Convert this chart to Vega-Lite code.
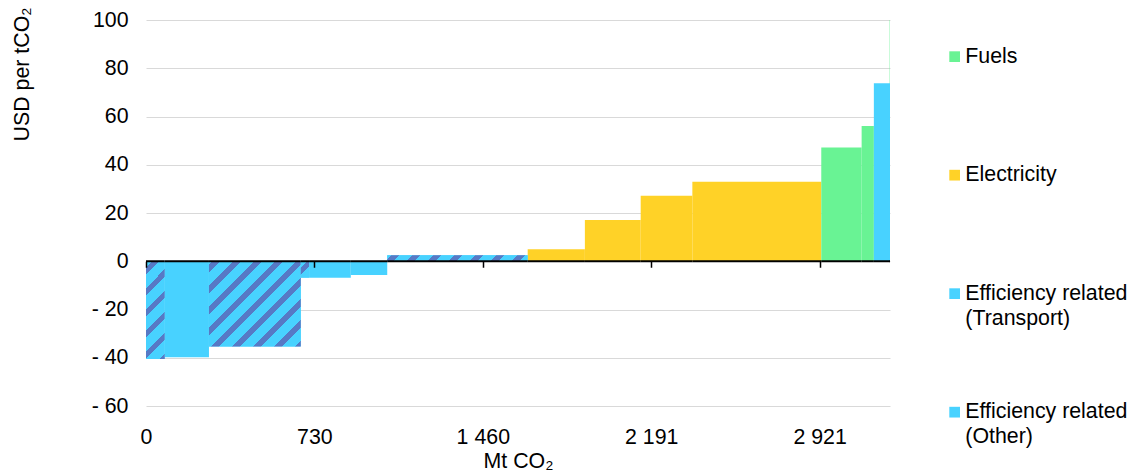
{
  "$schema": "https://vega.github.io/schema/vega-lite/v6.json",
  "width": 744,
  "height": 386,
  "autosize": "none",
  "padding": {"left": 146, "top": 20, "right": 239, "bottom": 69},
  "config": {
    "font": "Liberation Sans",
    "view": {"stroke": null},
    "axis": {"labelColor": "#000", "titleColor": "#000", "labelFontSize": 21.33, "titleFontSize": 21.33, "titleFontWeight": "normal"}
  },
  "data": {
    "values": [
      {"id": 1, "x0": 0, "x1": 81, "v": -40.5, "cat": "Efficiency related (Transport)"},
      {"id": 2, "x0": 81, "x1": 273, "v": -39.8, "cat": "Efficiency related (Other)"},
      {"id": 3, "x0": 273, "x1": 671, "v": -35.3, "cat": "Efficiency related (Transport)"},
      {"id": 4, "x0": 671, "x1": 707, "v": -6.8, "cat": "Efficiency related (Transport)"},
      {"id": 5, "x0": 707, "x1": 888, "v": -6.8, "cat": "Efficiency related (Other)"},
      {"id": 6, "x0": 888, "x1": 1046, "v": -5.7, "cat": "Efficiency related (Other)"},
      {"id": 7, "x0": 1046, "x1": 1655, "v": 2.5, "cat": "Efficiency related (Transport)"},
      {"id": 8, "x0": 1655, "x1": 1903, "v": 5.0, "cat": "Electricity"},
      {"id": 9, "x0": 1903, "x1": 2145, "v": 17.1, "cat": "Electricity"},
      {"id": 10, "x0": 2145, "x1": 2369, "v": 27.2, "cat": "Electricity"},
      {"id": 11, "x0": 2369, "x1": 2928, "v": 33.0, "cat": "Electricity"},
      {"id": 12, "x0": 2928, "x1": 3103, "v": 47.2, "cat": "Fuels"},
      {"id": 13, "x0": 3103, "x1": 3156, "v": 56.1, "cat": "Fuels"},
      {"id": 15, "x0": 3224.5, "x1": 3226, "v": 100, "cat": "Fuels"},
      {"id": 14, "x0": 3156, "x1": 3226, "v": 73.8, "cat": "Efficiency related (Other)"}
    ]
  },
  "layer": [
    {
      "mark": {"type": "rect"},
      "encoding": {
        "x": {
          "field": "x0", "type": "quantitative",
          "scale": {"domain": [0, 3226], "nice": false, "zero": false},
          "axis": {
            "orient": "bottom",
            "values": [0, 730.2, 1460.4, 2190.6, 2920.8],
            "labelExpr": "replace(format(datum.value, ',.0f'), ',', ' ')",
            "labelFlush": false,
            "domain": false, "ticks": false, "grid": false,
            "labelPadding": 20,
            "title": "Mt CO₂", "titlePadding": 3
          }
        },
        "x2": {"field": "x1"},
        "y": {
          "field": "v", "type": "quantitative",
          "scale": {"domain": [-60, 100], "nice": false},
          "axis": {
            "values": [-60, -40, -20, 0, 20, 40, 60, 80, 100],
            "labelExpr": "datum.value < 0 ? '- ' + abs(datum.value) : datum.label",
            "grid": true, "gridColor": "#d9d9d9", "gridWidth": 1,
            "domain": false, "ticks": false,
            "labelPadding": 18,
            "title": "USD per tCO₂",
            "titleAngle": 270, "titleX": -118, "titleY": -13,
            "titleAlign": "right", "titleBaseline": "alphabetic"
          }
        },
        "y2": {"datum": 0},
        "color": {
          "field": "cat", "type": "nominal",
          "scale": {
            "domain": ["Fuels", "Electricity", "Efficiency related (Transport)", "Efficiency related (Other)"],
            "range": ["#69F394", "#FFD227", "#48D2FF", "#48D2FF"]
          },
          "legend": {
            "title": null,
            "orient": "none",
            "legendX": 798,
            "legendY": 26,
            "padding": 0,
            "direction": "vertical",
            "gridAlign": "all",
            "rowPadding": 71.5,
            "symbolType": "square",
            "symbolSize": 115,
            "symbolStrokeWidth": 0,
            "symbolOffset": 0,
            "labelFontSize": 21.33,
            "labelColor": "#000",
            "labelOffset": 0,
            "labelLimit": 300,
            "labelExpr": "indexof(datum.label, '(') > 0 ? [substring(datum.label, 0, indexof(datum.label, '(') - 1), substring(datum.label, indexof(datum.label, '('))] : datum.label",
            "encode": {
              "labels": {"update": {"lineHeight": {"value": 25}}}
            }
          }
        }
      }
    },
    {
      "transform": [{"filter": "datum.id == 1"}],
      "mark": {"type": "rect", "fill": {"gradient": "linear", "x1": 0, "y1": 0, "x2": 0.22, "y2": 1.149, "stops": [
        {"offset": 0, "color": "#48D2FF"},
        {"offset": 0.05, "color": "#48D2FF"}, {"offset": 0.05, "color": "#5779C5"}, {"offset": 0.114, "color": "#5779C5"}, {"offset": 0.114, "color": "#48D2FF"},
        {"offset": 0.23, "color": "#48D2FF"}, {"offset": 0.23, "color": "#5779C5"}, {"offset": 0.295, "color": "#5779C5"}, {"offset": 0.295, "color": "#48D2FF"},
        {"offset": 0.411, "color": "#48D2FF"}, {"offset": 0.411, "color": "#5779C5"}, {"offset": 0.475, "color": "#5779C5"}, {"offset": 0.475, "color": "#48D2FF"},
        {"offset": 0.591, "color": "#48D2FF"}, {"offset": 0.591, "color": "#5779C5"}, {"offset": 0.656, "color": "#5779C5"}, {"offset": 0.656, "color": "#48D2FF"},
        {"offset": 0.772, "color": "#48D2FF"}, {"offset": 0.772, "color": "#5779C5"}, {"offset": 0.836, "color": "#5779C5"}, {"offset": 0.836, "color": "#48D2FF"},
        {"offset": 0.952, "color": "#48D2FF"}, {"offset": 0.952, "color": "#5779C5"}, {"offset": 1, "color": "#5779C5"}
      ]}},
      "encoding": {
        "x": {"field": "x0", "type": "quantitative", "axis": null},
        "x2": {"field": "x1"},
        "y": {"field": "v", "type": "quantitative"},
        "y2": {"datum": 0}
      }
    },
    {
      "transform": [{"filter": "datum.id == 3"}],
      "mark": {"type": "rect", "fill": {"gradient": "linear", "x1": 0, "y1": 0, "x2": 1.036, "y2": 0.961, "stops": [
        {"offset": 0, "color": "#48D2FF"},
        {"offset": 0.02, "color": "#48D2FF"}, {"offset": 0.02, "color": "#5779C5"}, {"offset": 0.062, "color": "#5779C5"}, {"offset": 0.062, "color": "#48D2FF"},
        {"offset": 0.139, "color": "#48D2FF"}, {"offset": 0.139, "color": "#5779C5"}, {"offset": 0.181, "color": "#5779C5"}, {"offset": 0.181, "color": "#48D2FF"},
        {"offset": 0.257, "color": "#48D2FF"}, {"offset": 0.257, "color": "#5779C5"}, {"offset": 0.3, "color": "#5779C5"}, {"offset": 0.3, "color": "#48D2FF"},
        {"offset": 0.376, "color": "#48D2FF"}, {"offset": 0.376, "color": "#5779C5"}, {"offset": 0.418, "color": "#5779C5"}, {"offset": 0.418, "color": "#48D2FF"},
        {"offset": 0.494, "color": "#48D2FF"}, {"offset": 0.494, "color": "#5779C5"}, {"offset": 0.537, "color": "#5779C5"}, {"offset": 0.537, "color": "#48D2FF"},
        {"offset": 0.613, "color": "#48D2FF"}, {"offset": 0.613, "color": "#5779C5"}, {"offset": 0.655, "color": "#5779C5"}, {"offset": 0.655, "color": "#48D2FF"},
        {"offset": 0.732, "color": "#48D2FF"}, {"offset": 0.732, "color": "#5779C5"}, {"offset": 0.774, "color": "#5779C5"}, {"offset": 0.774, "color": "#48D2FF"},
        {"offset": 0.85, "color": "#48D2FF"}, {"offset": 0.85, "color": "#5779C5"}, {"offset": 0.893, "color": "#5779C5"}, {"offset": 0.893, "color": "#48D2FF"},
        {"offset": 0.969, "color": "#48D2FF"}, {"offset": 0.969, "color": "#5779C5"}, {"offset": 1, "color": "#5779C5"}
      ]}},
      "encoding": {
        "x": {"field": "x0", "type": "quantitative", "axis": null},
        "x2": {"field": "x1"},
        "y": {"field": "v", "type": "quantitative"},
        "y2": {"datum": 0}
      }
    },
    {
      "transform": [{"filter": "datum.id == 4"}],
      "mark": {"type": "rect", "fill": {"gradient": "linear", "x1": 0, "y1": 0, "x2": 0.607, "y2": 1.199, "stops": [
        {"offset": 0, "color": "#48D2FF"},
        {"offset": 0.25, "color": "#48D2FF"}, {"offset": 0.25, "color": "#5779C5"}, {"offset": 0.55, "color": "#5779C5"}, {"offset": 0.55, "color": "#48D2FF"},
        {"offset": 1, "color": "#48D2FF"}
      ]}},
      "encoding": {
        "x": {"field": "x0", "type": "quantitative", "axis": null},
        "x2": {"field": "x1"},
        "y": {"field": "v", "type": "quantitative"},
        "y2": {"datum": 0}
      }
    },
    {
      "transform": [{"filter": "datum.id == 7"}],
      "mark": {"type": "rect", "fill": {"gradient": "linear", "x1": 0, "y1": 0, "x2": 1.041, "y2": 0.0444, "stops": [
        {"offset": 0, "color": "#48D2FF"},
        {"offset": 0.03, "color": "#48D2FF"}, {"offset": 0.03, "color": "#5779C5"}, {"offset": 0.081, "color": "#5779C5"}, {"offset": 0.081, "color": "#48D2FF"},
        {"offset": 0.173, "color": "#48D2FF"}, {"offset": 0.173, "color": "#5779C5"}, {"offset": 0.225, "color": "#5779C5"}, {"offset": 0.225, "color": "#48D2FF"},
        {"offset": 0.317, "color": "#48D2FF"}, {"offset": 0.317, "color": "#5779C5"}, {"offset": 0.368, "color": "#5779C5"}, {"offset": 0.368, "color": "#48D2FF"},
        {"offset": 0.46, "color": "#48D2FF"}, {"offset": 0.46, "color": "#5779C5"}, {"offset": 0.511, "color": "#5779C5"}, {"offset": 0.511, "color": "#48D2FF"},
        {"offset": 0.603, "color": "#48D2FF"}, {"offset": 0.603, "color": "#5779C5"}, {"offset": 0.654, "color": "#5779C5"}, {"offset": 0.654, "color": "#48D2FF"},
        {"offset": 0.747, "color": "#48D2FF"}, {"offset": 0.747, "color": "#5779C5"}, {"offset": 0.798, "color": "#5779C5"}, {"offset": 0.798, "color": "#48D2FF"},
        {"offset": 0.89, "color": "#48D2FF"}, {"offset": 0.89, "color": "#5779C5"}, {"offset": 0.941, "color": "#5779C5"}, {"offset": 0.941, "color": "#48D2FF"},
        {"offset": 1, "color": "#48D2FF"}
      ]}},
      "encoding": {
        "x": {"field": "x0", "type": "quantitative", "axis": null},
        "x2": {"field": "x1"},
        "y": {"field": "v", "type": "quantitative"},
        "y2": {"datum": 0}
      }
    },
    {
      "mark": {"type": "rule", "color": "#000", "strokeWidth": 2},
      "encoding": {
        "x": {
          "field": "x0", "type": "quantitative",
          "axis": {
            "orient": "bottom", "offset": -144.75,
            "values": [0, 730.2, 1460.4, 2190.6, 2920.8],
            "labels": false, "domain": false, "grid": false,
            "ticks": true, "tickSize": 6, "tickColor": "#000", "tickWidth": 1.5,
            "title": null, "zindex": 1
          }
        },
        "x2": {"field": "x1"},
        "y": {"datum": 0}
      }
    }
  ],
  "resolve": {"axis": {"x": "independent"}}
}
